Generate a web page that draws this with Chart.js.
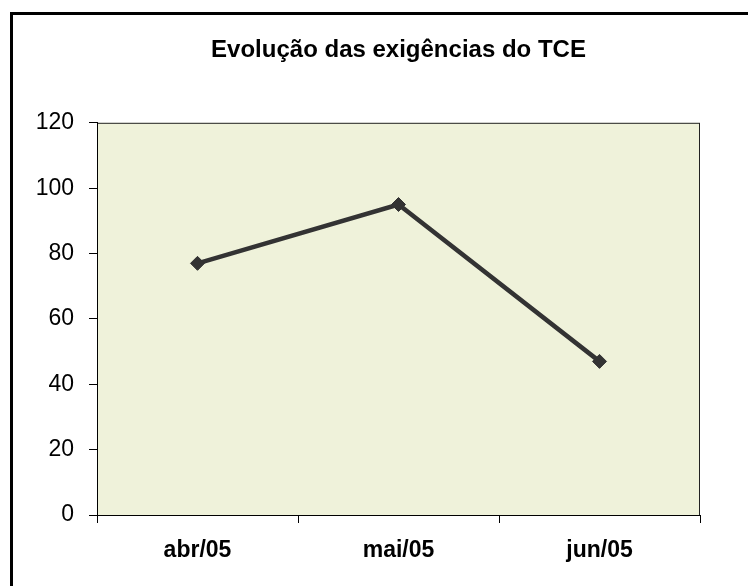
<!DOCTYPE html>
<html>
<head>
<meta charset="utf-8">
<script src="https://cdn.jsdelivr.net/npm/chart.js@4"></script>
<style>
  html, body { margin: 0; padding: 0; background: #fff; overflow: hidden; }
  #frame { position: absolute; left: 10px; top: 12px; width: 800px; height: 700px; border: 3px solid #000; }
  #wrap { position: absolute; left: 0; top: 0; width: 748px; height: 586px; }
</style>
</head>
<body>
<div id="frame"></div>
<div id="wrap"><canvas id="canvas1"></canvas></div>
<script>
// dados do gráfico
var meses = ['abr/05', 'mai/05', 'jun/05'];
var exigencias = [77, 95, 47];
var yMin = 0, yMax = 120, yPasso = 20;

// fundo e borda da área do gráfico
var areaPlugin = {
    id: 'areaFundo',
    beforeDraw: function (chart) {
        var a = chart.chartArea, c = chart.ctx;
        c.save();
        c.fillStyle = '#EFF2DA';
        c.fillRect(a.left, a.top, a.right - a.left, a.bottom - a.top);
        c.strokeStyle = '#222';
        c.lineWidth = 1;
        c.strokeRect(a.left + 0.5, a.top + 0.5, a.right - a.left - 1, a.bottom - a.top);
        c.restore();
    }
};

var fonte = 'Liberation Sans, Arial, sans-serif';

var ctx = document.getElementById('canvas1').getContext('2d');
var chart = new Chart(ctx, {
    type: 'line',
    data: {
        labels: meses,
        datasets: [{
            label: 'Exigências',
            data: exigencias,
            borderColor: '#333333',
            backgroundColor: '#333333',
            borderWidth: 4.5,
            pointStyle: 'rectRot',
            pointRadius: 7,
            pointBorderWidth: 1,
            tension: 0
        }]
    },
    options: {
        responsive: true,
        maintainAspectRatio: false,
        animation: false,
        layout: { padding: { left: 0, right: 48, top: 0, bottom: 0 } },
        plugins: {
            legend: { display: false },
            tooltip: { enabled: false },
            title: {
                display: true,
                text: 'Evolução das exigências do TCE',
                fullSize: false,
                color: '#000',
                font: { family: fonte, size: 24, weight: 'bold', lineHeight: 1.2 },
                padding: { top: 36, bottom: 58 }
            }
        },
        scales: {
            x: {
                offset: true,
                grid: { offset: true, drawOnChartArea: false, drawTicks: true, tickLength: 8, color: '#000' },
                border: { color: '#000' },
                ticks: {
                    color: '#000',
                    padding: 14,
                    font: { family: fonte, size: 23, weight: 'bold' }
                },
                afterFit: function (s) { s.height = 71; }
            },
            y: {
                min: yMin,
                max: yMax,
                grid: { drawOnChartArea: false, drawTicks: true, tickLength: 8, color: '#000' },
                border: { color: '#000' },
                ticks: {
                    stepSize: yPasso,
                    color: '#000',
                    padding: 15,
                    font: { family: fonte, size: 23 }
                },
                afterFit: function (s) { s.width = 97; }
            }
        }
    },
    plugins: [areaPlugin]
});
</script>
</body>
</html>
